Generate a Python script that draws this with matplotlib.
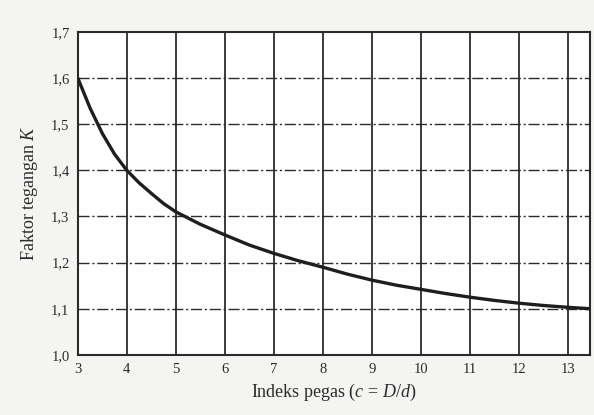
import numpy as np
import matplotlib
matplotlib.use('Agg')
import matplotlib.pyplot as plt
from matplotlib.ticker import FixedLocator, FuncFormatter

plt.rcParams['font.family'] = 'Liberation Serif'
plt.rcParams['mathtext.fontset'] = 'custom'
plt.rcParams['mathtext.rm'] = 'Liberation Serif'
plt.rcParams['mathtext.it'] = 'Liberation Serif:italic'

# spring index c and stress factor K
c_vals = [3.0, 3.25, 3.5, 3.75, 4.0, 4.25, 4.5, 4.75, 5.0, 5.5, 6.0, 6.5, 7.0,
          7.5, 8.0, 8.5, 9.0, 9.5, 10.0, 10.5, 11.0, 11.5, 12.0, 12.5, 13.0, 13.45]
k_vals = [1.60, 1.535, 1.48, 1.435, 1.40, 1.373, 1.35, 1.328, 1.31, 1.283, 1.26, 1.238, 1.22,
          1.204, 1.19, 1.175, 1.162, 1.151, 1.142, 1.133, 1.125, 1.118, 1.112, 1.107, 1.103, 1.10]

x_ticks = [3, 4, 5, 6, 7, 8, 9, 10, 11, 12, 13]
y_ticks = [1.0, 1.1, 1.2, 1.3, 1.4, 1.5, 1.6, 1.7]

ink = '#2b2b2b'

fig = plt.figure(figsize=(5.94, 4.15), dpi=100, facecolor='#f4f4f2')
ax = fig.add_axes([0.131, 0.145, 0.862, 0.778])
ax.set_facecolor('white')

# grid: solid verticals, dash-dot horizontals
for x in x_ticks[1:]:
    ax.axvline(x, color=ink, lw=1.3, zorder=1)
for y in y_ticks[1:-1]:
    ax.axhline(y, color=ink, lw=1.0, ls=(0, (8, 2, 1.5, 2)), zorder=1)

ax.plot(c_vals, k_vals, color='#1e1e1e', lw=2.4, solid_capstyle='round', zorder=3)

ax.set_xlim(3, 13.45)
ax.set_ylim(1.0, 1.7)
ax.xaxis.set_major_locator(FixedLocator(x_ticks))
ax.yaxis.set_major_locator(FixedLocator(y_ticks))
ax.yaxis.set_major_formatter(FuncFormatter(lambda v, p: f'{v:.1f}'.replace('.', ',')))
ax.tick_params(length=0, labelsize=10.5, colors=ink, pad=6)

for s in ax.spines.values():
    s.set_color(ink)
    s.set_linewidth(1.5)

ax.set_xlabel('Indeks pegas ($c$ = $D/d$)', fontsize=13, color=ink, labelpad=4)
ax.set_ylabel('Faktor tegangan $K$', fontsize=13, color=ink, labelpad=8)

fig.savefig('out.png', dpi=100, facecolor=fig.get_facecolor())
